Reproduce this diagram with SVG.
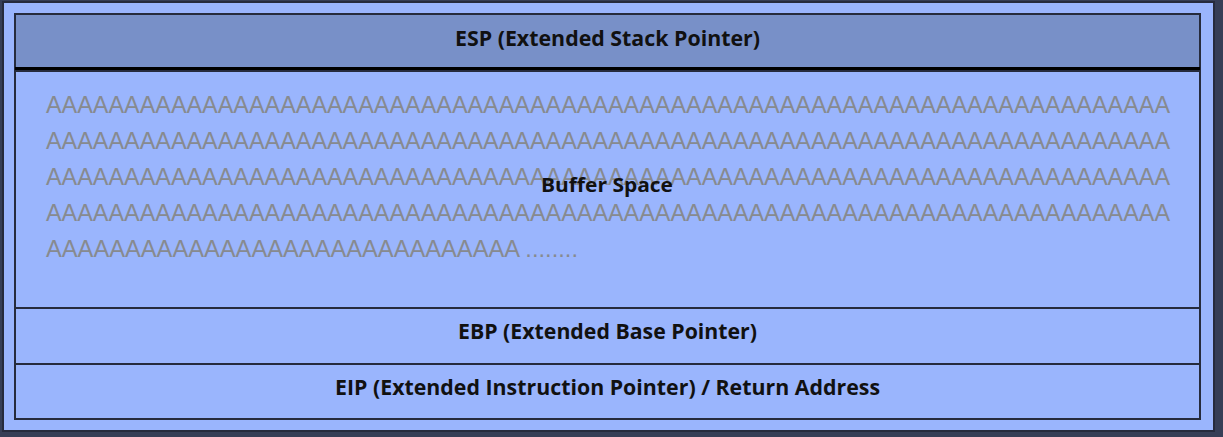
<svg xmlns="http://www.w3.org/2000/svg" width="1223" height="437" viewBox="0 0 1223 437">
  <style>
    .frame { fill: #9ab5fd; stroke: #262b3d; stroke-width: 2; }
    .cell { fill: #9ab5fd; stroke: #262b3d; stroke-width: 2; }
    .head { fill: #7890c8; stroke: #262b3d; stroke-width: 2; }
    .label { font-family: "Open Sans", "Liberation Sans", sans-serif; font-weight: bold; fill: #111111; text-anchor: start; }
    .fill { font-family: "Liberation Sans", Arial, sans-serif; font-size: 23.5px; fill: #878a8f; }
  </style>
  <rect x="0" y="0" width="1223" height="437" fill="#363e56"/>
  <rect class="frame" x="3" y="2" width="1211" height="429"/>

  <!-- stack top -->
  <g id="esp">
    <rect class="head" x="15" y="14" width="1185" height="55"/>
    <line x1="15" y1="69" x2="1200" y2="69" stroke="#000000" stroke-width="4"/>
    <text class="label" x="455" y="46" font-size="21" textLength="305" lengthAdjust="spacingAndGlyphs">ESP (Extended Stack Pointer)</text>
  </g>

  <!-- local buffer filled with A's -->
  <g id="buffer">
    <rect class="cell" x="15" y="71" width="1185" height="237"/>
    <text class="fill" x="46" y="113" textLength="1124" lengthAdjust="spacingAndGlyphs">AAAAAAAAAAAAAAAAAAAAAAAAAAAAAAAAAAAAAAAAAAAAAAAAAAAAAAAAAAAAAAAAAAAAAAAA</text>
    <text class="fill" x="46" y="149" textLength="1124" lengthAdjust="spacingAndGlyphs">AAAAAAAAAAAAAAAAAAAAAAAAAAAAAAAAAAAAAAAAAAAAAAAAAAAAAAAAAAAAAAAAAAAAAAAA</text>
    <text class="fill" x="46" y="185" textLength="1124" lengthAdjust="spacingAndGlyphs">AAAAAAAAAAAAAAAAAAAAAAAAAAAAAAAAAAAAAAAAAAAAAAAAAAAAAAAAAAAAAAAAAAAAAAAA</text>
    <text class="fill" x="46" y="221" textLength="1124" lengthAdjust="spacingAndGlyphs">AAAAAAAAAAAAAAAAAAAAAAAAAAAAAAAAAAAAAAAAAAAAAAAAAAAAAAAAAAAAAAAAAAAAAAAA</text>
    <text class="fill" x="46" y="257" textLength="532" lengthAdjust="spacingAndGlyphs">AAAAAAAAAAAAAAAAAAAAAAAAAAAAAA ........</text>
    <text class="label" x="541" y="192" font-size="19" textLength="132" lengthAdjust="spacingAndGlyphs">Buffer Space</text>
  </g>

  <!-- saved frame pointer -->
  <g id="ebp">
    <rect class="cell" x="15" y="308" width="1185" height="56"/>
    <text class="label" x="458" y="339" font-size="21" textLength="299" lengthAdjust="spacingAndGlyphs">EBP (Extended Base Pointer)</text>
  </g>

  <!-- return address -->
  <g id="eip">
    <rect class="cell" x="15" y="364" width="1185" height="55"/>
    <text class="label" x="335" y="395" font-size="21" textLength="545" lengthAdjust="spacingAndGlyphs">EIP (Extended Instruction Pointer) / Return Address</text>
  </g>

  <g id="connectors"/>
</svg>
